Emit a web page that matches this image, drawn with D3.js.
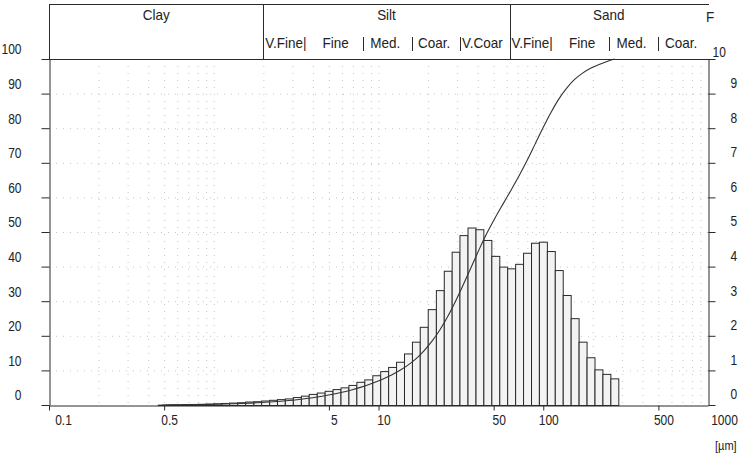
<!DOCTYPE html>
<html>
<head>
<meta charset="utf-8">
<script src="https://cdn.jsdelivr.net/npm/d3@7"></script>
<style>
  html, body { margin: 0; padding: 0; background: #fff; }
  svg { display: block; }
  text { font-family: "Liberation Sans", Arial, sans-serif; fill: #222; }
</style>
</head>
<body>
<svg id="chart" width="754" height="456"></svg>
<script>
// Size class edges (µm), one more than the number of bars
const sizeEdges = [0.458, 0.512, 0.573, 0.640, 0.715, 0.798, 0.892, 0.997, 1.11, 1.24,
  1.39, 1.55, 1.74, 1.94, 2.17, 2.42, 2.70, 3.02, 3.38, 3.77,
  4.22, 4.71, 5.26, 5.88, 6.57, 7.34, 8.20, 9.17, 10.24, 11.44,
  12.78, 14.28, 15.96, 17.8, 19.9, 22.3, 24.9, 27.8, 31.0, 34.7,
  38.8, 43.3, 48.4, 54.1, 60.4, 67.5, 75.4, 84.3, 94.1, 105.2,
  117.5, 131.3, 146.7, 163.9, 183.2, 204.7, 228.7, 255.5, 285.5];

// Frequency per size class (%), right axis
const freq = [0.01, 0.015, 0.02, 0.025, 0.03, 0.035, 0.04, 0.05, 0.06, 0.07,
  0.08, 0.10, 0.11, 0.13, 0.15, 0.17, 0.19, 0.23, 0.27, 0.32,
  0.36, 0.41, 0.46, 0.51, 0.58, 0.67, 0.74, 0.86, 0.98, 1.10,
  1.25, 1.49, 1.83, 2.26, 2.77, 3.32, 3.88, 4.43, 4.91, 5.13,
  5.08, 4.77, 4.31, 4.00, 3.95, 4.08, 4.40, 4.69, 4.72, 4.45,
  3.90, 3.18, 2.51, 1.83, 1.38, 1.03, 0.90, 0.77];

const leftTicks = [0, 10, 20, 30, 40, 50, 60, 70, 80, 90, 100];
const rightTicks = [0, 1, 2, 3, 4, 5, 6, 7, 8, 9, 10];
const xTicks = [0.1, 0.5, 5, 10, 50, 100, 500, 1000];
const xTickLabels = ["0.1", "0.5", "5", "10", "50", "100", "500", "1000"];

// Header classes (Wentworth)
const mainClasses = ["Clay", "Silt", "Sand"];
const mainBounds = [0.1, 2, 62.5, 1000];
const siltClasses = ["V.Fine|", "Fine", "Med.", "Coar.", "V.Coar"];
const siltBounds = [2, 4, 8, 16, 31.25, 62.5];
const sandClasses = ["V.Fine|", "Fine", "Med.", "Coar."];
const sandBounds = [62.5, 125, 250, 500, 1000];

(function draw() {
  const svg = d3.select("#chart");
  const pL = 49, pR = 708, pT = 59, pB = 405, headTop = 4;

  const x = d3.scaleLog().domain([0.1, 1000]).range([pL, pR]);
  const yCum = d3.scaleLinear().domain([0, 100]).range([pB, pT]);
  const yFreq = d3.scaleLinear().domain([0, 10]).range([pB, pT]);

  const ink = "#2a2a2a";
  const fs = 15;
  const numSx = 0.8;   // narrow numerals
  const txtSx = 0.9;   // narrow header lettering

  // narrow text placed at (px, py)
  function label(parent, px, py, str, opts = {}) {
    const sx = opts.sx || txtSx;
    return parent.append("text")
      .attr("transform", `translate(${px},${py}) scale(${sx},1)`)
      .attr("text-anchor", opts.anchor || "start")
      .style("font-size", (opts.size || fs) + "px")
      .text(str);
  }

  // dotted background grid
  const grid = svg.append("g").attr("stroke", "#a0a0a0").attr("stroke-width", 1)
    .attr("stroke-dasharray", "1,6").attr("opacity", 0.6);
  const vGrid = [];
  [0.1, 1, 10, 100].forEach(d => { for (let m = 1; m < 10; m++) vGrid.push(d * m); });
  grid.selectAll("line.v").data(vGrid.filter(v => v > 0.1 && v < 1000)).join("line")
    .attr("x1", d => x(d) + 0.5).attr("x2", d => x(d) + 0.5)
    .attr("y1", pT).attr("y2", pB);
  grid.selectAll("line.h").data(leftTicks.slice(1, -1)).join("line")
    .attr("x1", pL).attr("x2", pR)
    .attr("y1", d => yCum(d) + 0.5).attr("y2", d => yCum(d) + 0.5);

  // histogram bars
  const bins = freq.map((v, i) => ({ lo: sizeEdges[i], hi: sizeEdges[i + 1], v }));
  svg.append("g").selectAll("rect").data(bins).join("rect")
    .attr("x", d => x(d.lo) + 0.5)
    .attr("width", d => x(d.hi) - x(d.lo))
    .attr("y", d => yFreq(d.v) + 0.5)
    .attr("height", d => yFreq(0) - yFreq(d.v))
    .attr("fill", "#f3f3f3")
    .attr("stroke", ink).attr("stroke-width", 1);

  // cumulative curve, at geometric class centres
  const cum = d3.cumsum(freq);
  const cumPts = bins.map((b, i) => [Math.sqrt(b.lo * b.hi), cum[i]]);
  svg.append("path")
    .datum(cumPts)
    .attr("fill", "none").attr("stroke", "#333").attr("stroke-width", 1.1)
    .attr("d", d3.line().x(d => x(d[0])).y(d => yCum(Math.min(100, d[1]))).curve(d3.curveMonotoneX));

  // axes
  const styleAxis = g => {
    g.selectAll("path, line").attr("stroke", ink);
    g.selectAll("text").style("font-size", fs + "px").attr("fill", ink)
      .attr("transform", `scale(${numSx},1)`);
  };

  const gLeft = svg.append("g").attr("transform", `translate(${pL + 0.5},0)`)
    .call(d3.axisLeft(yCum).tickValues(leftTicks).tickSize(8).tickSizeOuter(0).tickFormat(d3.format("d")));
  styleAxis(gLeft);
  gLeft.selectAll("text").attr("x", -28 / numSx).attr("y", -10);

  const gRight = svg.append("g").attr("transform", `translate(${pR + 0.5},0)`)
    .call(d3.axisRight(yFreq).tickValues(rightTicks).tickSize(7).tickSizeOuter(0).tickFormat(d3.format("d")));
  styleAxis(gRight);
  gRight.selectAll("text").attr("x", d => (d === 10 ? 4 : 22) / numSx).attr("y", d => d === 10 ? -7 : -11);

  const gBottom = svg.append("g").attr("transform", `translate(0,${pB + 0.5})`)
    .call(d3.axisBottom(x).tickValues(xTicks).tickSize(5).tickSizeOuter(0)
      .tickFormat((d, i) => xTickLabels[i]));
  styleAxis(gBottom);
  gBottom.selectAll("text").attr("y", 9)
    .attr("dx", (d, i) => (i === 0 ? 14 : (i === xTicks.length - 1 ? 16 : 5)) / numSx);
  gBottom.selectAll(".tick line").filter(d => d === 1000).remove();

  label(svg, 715, 450, "[µm]", { size: 13, sx: 0.85 });

  // plot frame top
  svg.append("line").attr("x1", pL).attr("x2", pR + 1)
    .attr("y1", pT + 0.5).attr("y2", pT + 0.5).attr("stroke", ink);

  // header band
  const head = svg.append("g");
  head.append("line").attr("x1", pL).attr("x2", pR + 1)
    .attr("y1", headTop + 0.5).attr("y2", headTop + 0.5).attr("stroke", ink);
  head.selectAll("line.div").data(mainBounds.slice(0, 3)).join("line")
    .attr("x1", d => Math.round(x(d)) + 0.5).attr("x2", d => Math.round(x(d)) + 0.5)
    .attr("y1", headTop).attr("y2", pT).attr("stroke", ink);
  mainClasses.forEach((n, i) => {
    label(head, (x(mainBounds[i]) + x(mainBounds[i + 1])) / 2, 20, n, { anchor: "middle" });
  });
  label(head, pR - 2, 22, "F");

  function subRow(names, bounds) {
    names.forEach((n, i) => {
      const a = x(bounds[i]), b = x(bounds[i + 1]);
      const startAligned = n.startsWith("V.");
      label(head, startAligned ? a + 2 : (a + b) / 2 - 2, 48, n,
        { anchor: startAligned ? "start" : "middle" });
    });
    // separators between the finer classes
    bounds.slice(2, -1).forEach(v => {
      head.append("line").attr("x1", Math.round(x(v)) + 0.5).attr("x2", Math.round(x(v)) + 0.5)
        .attr("y1", 37).attr("y2", 51).attr("stroke", ink);
    });
  }
  subRow(siltClasses, siltBounds);
  subRow(sandClasses, sandBounds);
})();
</script>
</body>
</html>
